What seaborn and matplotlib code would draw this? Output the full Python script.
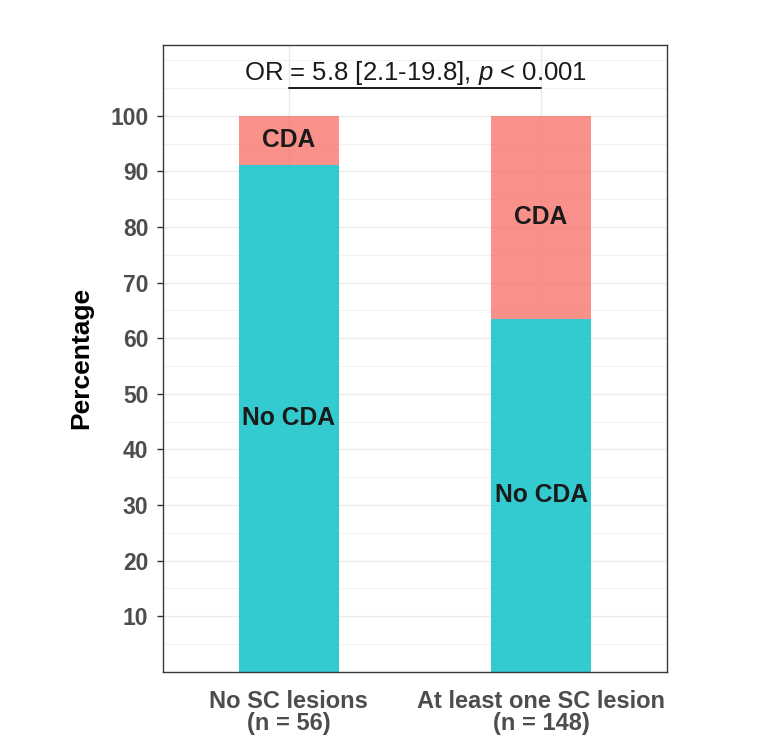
import numpy as np
import pandas as pd
import matplotlib
matplotlib.use("Agg")
import matplotlib.pyplot as plt
import seaborn as sns
from matplotlib.ticker import MultipleLocator

# ---- data ----
groups = ["No SC lesions\n(n = 56)", "At least one SC lesion\n(n = 148)"]
no_cda_pct = [91.1, 63.5]
cda_pct = [8.9, 36.5]
seg_labels = ["No CDA", "CDA"]
y_ticks = [10, 20, 30, 40, 50, 60, 70, 80, 90, 100]
annot_text = "OR = 5.8 [2.1-19.8], $p$ < 0.001"

sns.set_theme(style="white")
plt.rcParams["font.family"] = ["Liberation Sans", "DejaVu Sans"]
plt.rcParams["mathtext.fontset"] = "custom"
plt.rcParams["mathtext.rm"] = "Liberation Sans"
plt.rcParams["mathtext.it"] = "Liberation Sans:italic"

fig = plt.figure(figsize=(7.83, 7.39), dpi=100)
ax = fig.add_axes([0.208, 0.091, 0.644, 0.848])

df_no = pd.DataFrame({"group": groups, "pct": no_cda_pct})
df_cda = pd.DataFrame({"group": groups, "pct": cda_pct, "base": no_cda_pct})

teal = "#00BFC4"
salmon = "#F8766D"
sns.barplot(data=df_no, x="group", y="pct", color=teal, alpha=0.8,
            width=0.4, saturation=1, ax=ax, linewidth=0, zorder=2)
sns.barplot(data=df_cda, x="group", y="pct", color=salmon, alpha=0.8,
            width=0.4, saturation=1, ax=ax, linewidth=0, zorder=2,
            bottom=df_cda["base"].values)

# segment labels
for i in range(len(groups)):
    ax.text(i, no_cda_pct[i] / 2, seg_labels[0], ha="center", va="center",
            fontsize=17.7, fontweight="bold", color="#1a1a1a", zorder=3)
    ax.text(i, no_cda_pct[i] + cda_pct[i] / 2, seg_labels[1], ha="center",
            va="center", fontsize=17.7, fontweight="bold", color="#1a1a1a", zorder=3)

# significance annotation
ax.plot([0, 1], [105, 105], color="#1a1a1a", lw=1.4, zorder=3)
ax.text(0.5, 107.7, annot_text, ha="center", va="center", fontsize=18.5,
        color="#1a1a1a", zorder=3)

ax.set_xlim(-0.5, 1.5)
ax.set_ylim(0, 112.7)
ax.set_yticks(y_ticks)
ax.yaxis.set_minor_locator(MultipleLocator(5))
ax.set_axisbelow(True)
ax.grid(True, which="major", color="#EBEBEB", lw=1.0)
ax.grid(True, which="minor", axis="y", color="#F2F2F2", lw=0.7)

for s in ax.spines.values():
    s.set_visible(True)
    s.set_color("#3a3a3a")
    s.set_linewidth(1.0)

ax.tick_params(axis="y", which="major", length=4.5, width=1, color="#333333",
               labelsize=16.5, labelcolor="#4D4D4D", pad=6, left=True)
ax.tick_params(axis="y", which="minor", length=0)
ax.tick_params(axis="x", length=0, labelsize=17, labelcolor="#4D4D4D", pad=13)
for lab in ax.get_yticklabels() + ax.get_xticklabels():
    lab.set_fontweight("bold")
for lab in ax.get_xticklabels():
    lab.set_linespacing(0.95)

ax.set_xlabel("")
ax.set_ylabel("Percentage", fontsize=19, fontweight="bold", color="black",
              labelpad=12)

fig.savefig("out.png", dpi=100)
